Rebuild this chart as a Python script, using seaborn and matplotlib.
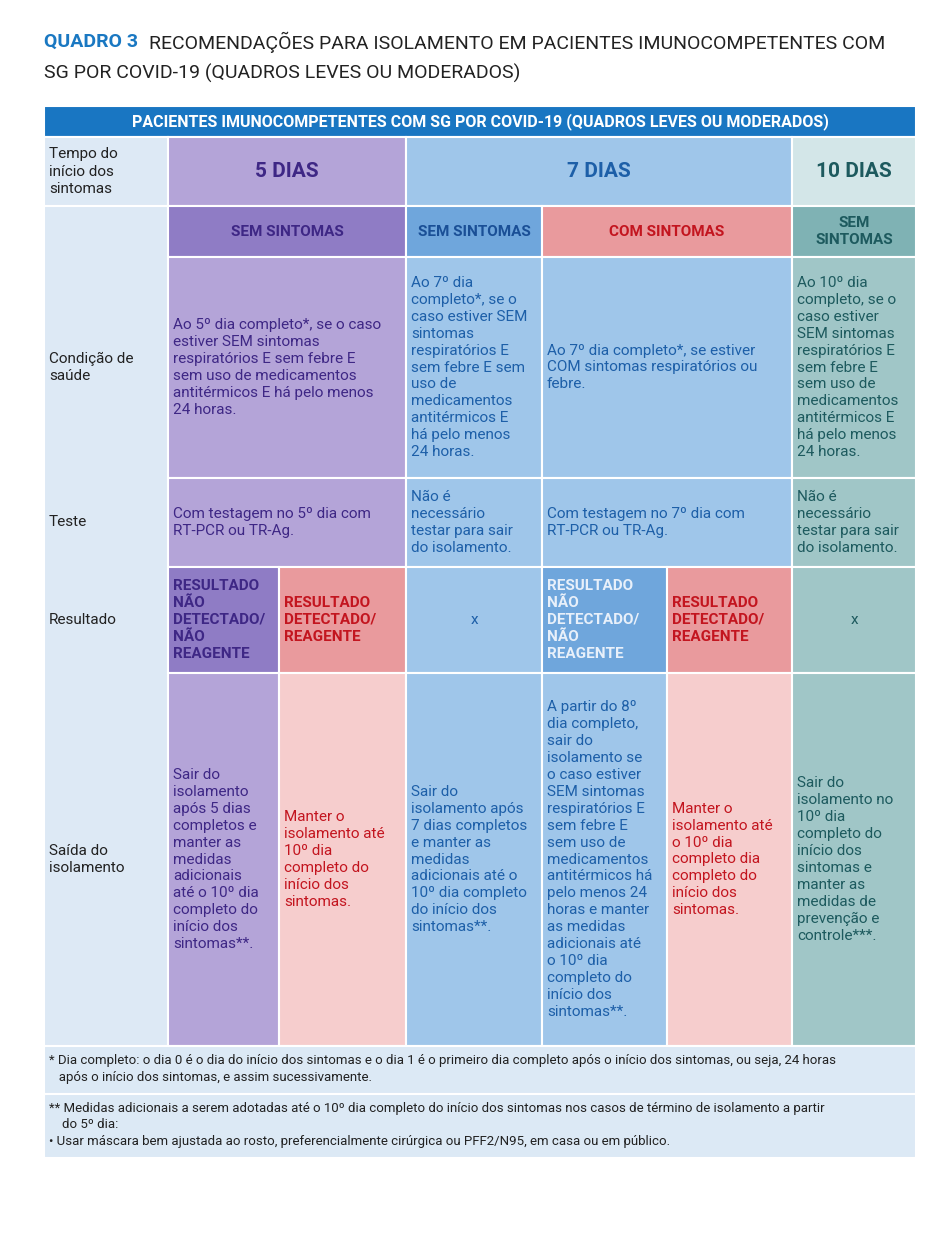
import matplotlib
matplotlib.use("Agg")
import matplotlib.pyplot as plt
import seaborn as sns
from matplotlib.patches import Rectangle

sns.set_theme(style="white")
plt.rcParams['font.family'] = ['Roboto', 'DejaVu Sans']

# grade da tabela (pixels)
col_x = [44, 168, 279, 406, 542, 667, 792, 916]
row_y = [106, 137, 206, 257, 478, 567, 673, 1046, 1094, 1158]

row_labels = ["Tempo do\ninício dos\nsintomas", "", "Condição de\nsaúde", "Teste", "Resultado", "Saída do\nisolamento"]

# cores
LBL = "#dde9f5"
P_BG, P_DK, P_TX = "#b4a4d8", "#8f7cc5", "#3e2785"
B_BG, B_DK, B_TX = "#9fc6ea", "#6fa6dc", "#1d5fa8"
R_DK, R_LT, R_TX = "#e99a9d", "#f6cdcd", "#c3151f"
T_BG, T_DK, T_TX, T_LT = "#a0c6c7", "#7fb2b4", "#1d5a5e", "#d3e6e8"

# (texto, col0, col1, row0, row1, fundo, cor, negrito, centro, tamanho)
cells = [
    ("5 DIAS", 1, 3, 1, 2, P_BG, P_TX, True, True, 15),
    ("7 DIAS", 3, 6, 1, 2, B_BG, B_TX, True, True, 15),
    ("10 DIAS", 6, 7, 1, 2, T_LT, T_TX, True, True, 15),
    ("SEM SINTOMAS", 1, 3, 2, 3, P_DK, P_TX, True, True, 11),
    ("SEM SINTOMAS", 3, 4, 2, 3, B_DK, "#1a4f96", True, True, 11),
    ("COM SINTOMAS", 4, 6, 2, 3, R_DK, R_TX, True, True, 11),
    ("SEM\nSINTOMAS", 6, 7, 2, 3, T_DK, T_TX, True, True, 11),
    ("Ao 5º dia completo*, se o caso\nestiver SEM sintomas\nrespiratórios E sem febre E\nsem uso de medicamentos\nantitérmicos E há pelo menos\n24 horas.", 1, 3, 3, 4, P_BG, P_TX, False, False, 11),
    ("Ao 7º dia\ncompleto*, se o\ncaso estiver SEM\nsintomas\nrespiratórios E\nsem febre E sem\nuso de\nmedicamentos\nantitérmicos E\nhá pelo menos\n24 horas.", 3, 4, 3, 4, B_BG, B_TX, False, False, 11),
    ("Ao 7º dia completo*, se estiver\nCOM sintomas respiratórios ou\nfebre.", 4, 6, 3, 4, B_BG, B_TX, False, False, 11),
    ("Ao 10º dia\ncompleto, se o\ncaso estiver\nSEM sintomas\nrespiratórios E\nsem febre E\nsem uso de\nmedicamentos\nantitérmicos E\nhá pelo menos\n24 horas.", 6, 7, 3, 4, T_BG, T_TX, False, False, 11),
    ("Com testagem no 5º dia com\nRT-PCR ou TR-Ag.", 1, 3, 4, 5, P_BG, P_TX, False, False, 11),
    ("Não é\nnecessário\ntestar para sair\ndo isolamento.", 3, 4, 4, 5, B_BG, B_TX, False, False, 11),
    ("Com testagem no 7º dia com\nRT-PCR ou TR-Ag.", 4, 6, 4, 5, B_BG, B_TX, False, False, 11),
    ("Não é\nnecessário\ntestar para sair\ndo isolamento.", 6, 7, 4, 5, T_BG, T_TX, False, False, 11),
    ("RESULTADO\nNÃO\nDETECTADO/\nNÃO\nREAGENTE", 1, 2, 5, 6, P_DK, P_TX, True, False, 11),
    ("RESULTADO\nDETECTADO/\nREAGENTE", 2, 3, 5, 6, R_DK, R_TX, True, False, 11),
    ("x", 3, 4, 5, 6, B_BG, B_TX, False, True, 11),
    ("RESULTADO\nNÃO\nDETECTADO/\nNÃO\nREAGENTE", 4, 5, 5, 6, B_DK, "#e8f0fa", True, False, 11),
    ("RESULTADO\nDETECTADO/\nREAGENTE", 5, 6, 5, 6, R_DK, R_TX, True, False, 11),
    ("x", 6, 7, 5, 6, T_BG, T_TX, False, True, 11),
    ("Sair do\nisolamento\napós 5 dias\ncompletos e\nmanter as\nmedidas\nadicionais\naté o 10º dia\ncompleto do\ninício dos\nsintomas**.", 1, 2, 6, 7, P_BG, P_TX, False, False, 11),
    ("Manter o\nisolamento até\n10º dia\ncompleto do\ninício dos\nsintomas.", 2, 3, 6, 7, R_LT, R_TX, False, False, 11),
    ("Sair do\nisolamento após\n7 dias completos\ne manter as\nmedidas\nadicionais até o\n10º dia completo\ndo início dos\nsintomas**.", 3, 4, 6, 7, B_BG, B_TX, False, False, 11),
    ("A partir do 8º\ndia completo,\nsair do\nisolamento se\no caso estiver\nSEM sintomas\nrespiratórios E\nsem febre E\nsem uso de\nmedicamentos\nantitérmicos há\npelo menos 24\nhoras e manter\nas medidas\nadicionais até\no 10º dia\ncompleto do\ninício dos\nsintomas**.", 4, 5, 6, 7, B_BG, B_TX, False, False, 11),
    ("Manter o\nisolamento até\no 10º dia\ncompleto dia\ncompleto do\ninício dos\nsintomas.", 5, 6, 6, 7, R_LT, R_TX, False, False, 11),
    ("Sair do\nisolamento no\n10º dia\ncompleto do\ninício dos\nsintomas e\nmanter as\nmedidas de\nprevenção e\ncontrole***.", 6, 7, 6, 7, T_BG, T_TX, False, False, 11),
]

footnotes = [
    "* Dia completo: o dia 0 é o dia do início dos sintomas e o dia 1 é o primeiro dia completo após o início dos sintomas, ou seja, 24 horas\n   após o início dos sintomas, e assim sucessivamente.",
    "** Medidas adicionais a serem adotadas até o 10º dia completo do início dos sintomas nos casos de término de isolamento a partir\n    do 5º dia:\n• Usar máscara bem ajustada ao rosto, preferencialmente cirúrgica ou PFF2/N95, em casa ou em público.",
]

fig = plt.figure(figsize=(9.46, 12.33), dpi=100)
ax = fig.add_axes([0, 0, 1, 1])
ax.set_xlim(0, 946)
ax.set_ylim(1233, 0)
ax.axis("off")


def box(x0, x1, y0, y1, color):
    ax.add_patch(Rectangle((x0, y0), x1 - x0, y1 - y0, facecolor=color, edgecolor="white", lw=1.5))


# titulo
ax.text(44, 42, "QUADRO 3", color="#1a78c2", fontsize=14, fontweight="bold", va="center")
ax.text(149, 42, "RECOMENDAÇÕES PARA ISOLAMENTO EM PACIENTES IMUNOCOMPETENTES COM", color="#222222", fontsize=14, va="center")
ax.text(44, 73, "SG POR COVID-19 (QUADROS LEVES OU MODERADOS)", color="#222222", fontsize=14, va="center")

# cabecalho
box(col_x[0], col_x[-1], row_y[0], row_y[1], "#1976c2")
ax.text((col_x[0] + col_x[-1]) / 2, (row_y[0] + row_y[1]) / 2,
        "PACIENTES IMUNOCOMPETENTES COM SG POR COVID-19 (QUADROS LEVES OU MODERADOS)",
        color="white", fontsize=11.5, fontweight="bold", ha="center", va="center")

# coluna de rotulos
box(col_x[0], col_x[1], row_y[1], row_y[2], LBL)
box(col_x[0], col_x[1], row_y[2], row_y[7], LBL)
for i, lab in enumerate(row_labels):
    if lab:
        ax.text(col_x[0] + 5, (row_y[i + 1] + row_y[i + 2]) / 2, lab, fontsize=11, color="#222222",
                va="center", linespacing=1.3)

for txt, c0, c1, r0, r1, bg, fg, bold, center, fs in cells:
    x0, x1, y0, y1 = col_x[c0], col_x[c1], row_y[r0], row_y[r1]
    box(x0, x1, y0, y1, bg)
    if center:
        ax.text((x0 + x1) / 2, (y0 + y1) / 2, txt, color=fg, fontsize=fs, ha="center", va="center",
                fontweight="bold" if bold else "normal", linespacing=1.25)
    else:
        ax.text(x0 + 5, (y0 + y1) / 2, txt, color=fg, fontsize=fs, ha="left", va="center",
                fontweight="bold" if bold else "normal", linespacing=1.27)

# notas de rodape
for i, note in enumerate(footnotes):
    y0, y1 = row_y[7 + i], row_y[8 + i]
    box(col_x[0], col_x[-1], y0, y1, "#dce9f5")
    ax.text(col_x[0] + 5, y0 + 8, note, fontsize=9.5, color="#222222", va="top", linespacing=1.35)

fig.savefig("out.png", dpi=100, facecolor="white")
